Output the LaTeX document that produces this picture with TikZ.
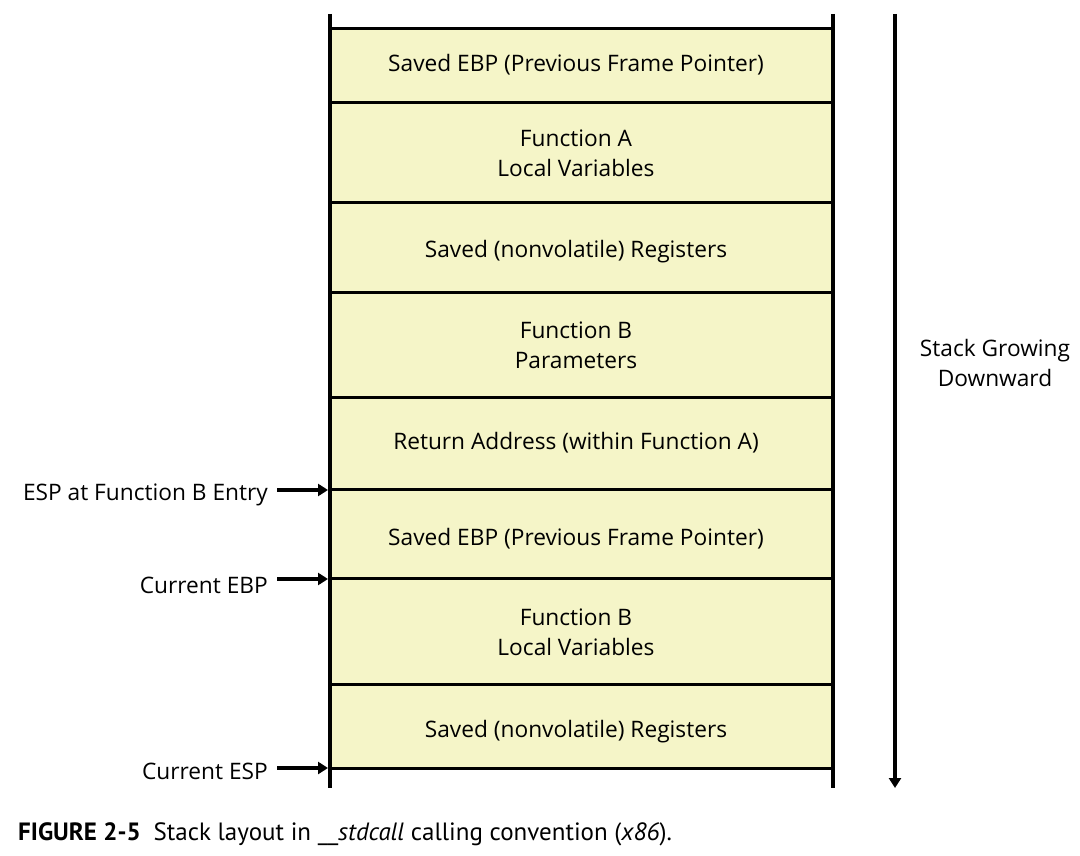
\documentclass[tikz,border=0pt]{standalone}
\usepackage{fontspec}
\setmainfont{Open Sans}
\newfontfamily\capfont{PT Sans}
\usetikzlibrary{arrows.meta}
\definecolor{cellfill}{RGB}{245,245,200}
\tikzset{
  cell/.style={fill=cellfill, inner sep=0pt, minimum width=503pt},
  txt/.style={inner sep=0pt, align=center, font=\fontsize{22.7}{30}\selectfont},
  lbl/.style={anchor=east, inner sep=0pt, font=\fontsize{22.7}{30}\selectfont},
  sep/.style={line width=3pt},
  wall/.style={line width=4.5pt},
  ptr/.style={line width=3.5pt, -{Triangle[length=10pt,width=12pt]}},
}
\begin{document}
\begin{tikzpicture}[x=1pt,y=-1pt]
\useasboundingbox (0,0) rectangle (1080,856);
% cells
\node[cell, minimum height=74pt]  (c1) at (581.5,66)  {};
\node[cell, minimum height=100pt] (c2) at (581.5,153) {};
\node[cell, minimum height=90pt]  (c3) at (581.5,248) {};
\node[cell, minimum height=105pt] (c4) at (581.5,345.5) {};
\node[cell, minimum height=92pt]  (c5) at (581.5,444) {};
\node[cell, minimum height=89pt]  (c6) at (581.5,534.5) {};
\node[cell, minimum height=106pt] (c7) at (581.5,632) {};
\node[cell, minimum height=83pt]  (c8) at (581.5,726.5) {};
% texts
\node[txt] (t1) at (576,65)  {Saved EBP (Previous Frame Pointer)};
\node[txt] (t2) at (576,153) {Function A\\Local Variables};
\node[txt] (t3) at (576,252) {Saved (nonvolatile) Registers};
\node[txt] (t4) at (576,345) {Function B\\Parameters};
\node[txt] (t5) at (576,443) {Return Address (within Function A)};
\node[txt] (t6) at (576,539) {Saved EBP (Previous Frame Pointer)};
\node[txt] (t7) at (576,632) {Function B\\Local Variables};
\node[txt] (t8) at (576,732) {Saved (nonvolatile) Registers};
% separators
\foreach \n in {c1,c2,c3,c4,c5,c6,c7,c8} {
  \draw[sep] (\n.north west) -- (\n.north east);
}
\draw[sep] (c8.south west) -- (c8.south east);
% walls
\coordinate (wlt) at (330,14);
\coordinate (wlb) at (330,788);
\coordinate (wrt) at (833,14);
\coordinate (wrb) at (833,788);
\draw[wall] (wlt) -- (wlb);
\draw[wall] (wrt) -- (wrb);
% pointer labels
\node[lbl] (l1) at (268,495) {ESP at Function B Entry};
\node[lbl] (l2) at (268,585) {Current EBP};
\node[lbl] (l3) at (268,771) {Current ESP};
\coordinate (p1) at (328,490);
\coordinate (p2) at (328,579);
\coordinate (p3) at (328,768);
\draw[ptr] (277,490) -- (p1);
\draw[ptr] (277,579) -- (p2);
\draw[ptr] (277,768) -- (p3);
% growth arrow
\coordinate (gt) at (895,14);
\coordinate (gb) at (895,788);
\draw[ptr] (gt) -- (gb);
\node[txt] (grow) at (995,363) {Stack Growing\\Downward};
% caption
\node[anchor=west, inner sep=0pt, font=\capfont\fontsize{25}{28}\selectfont] (cap) at (18,834)
  {\textbf{FIGURE 2-5}\hspace{0.25em} Stack layout in \_\_\textit{stdcall} calling convention (\textit{x86}).};
\end{tikzpicture}
\end{document}
